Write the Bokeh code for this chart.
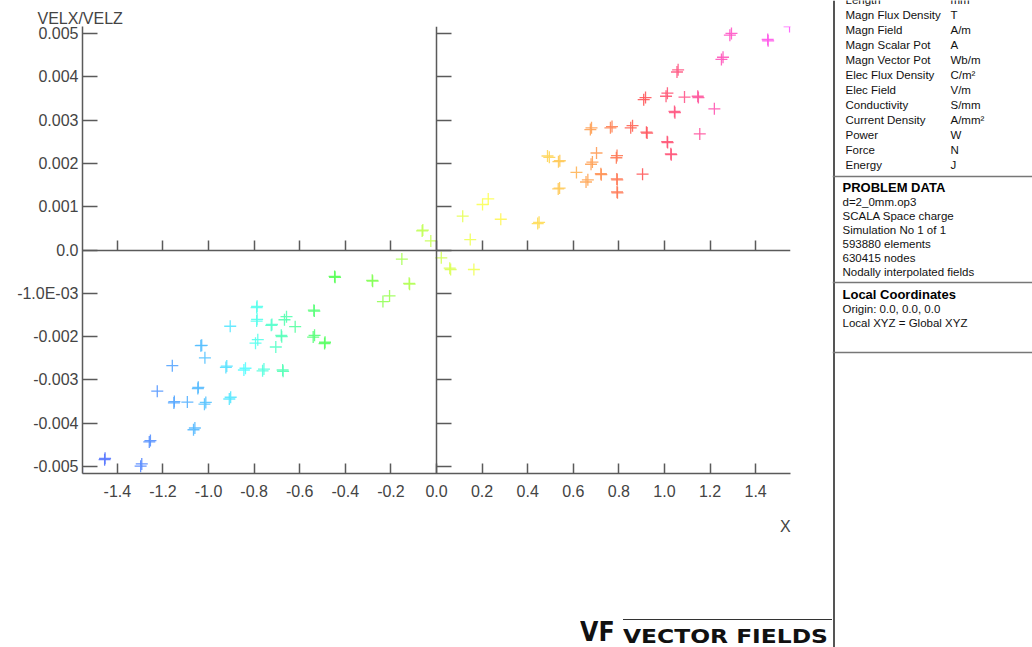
import colorsys
import numpy as np
from bokeh.plotting import figure
from bokeh.models import (Range1d, LinearAxis, FixedTicker, CustomJSTickFormatter,
                          ColumnDataSource, LinearColorMapper, Div)
from bokeh.layouts import row, column
from bokeh.embed import file_html
from bokeh.resources import INLINE
from bokeh.core.properties import value

# ---------------- data ----------------
x_vals = [1.549, 1.294, 1.287, 1.453, 1.455, 1.257, 1.250, 1.060, 1.055, 1.013, 1.007,
          0.909, 0.917, 1.088, 1.146, 1.149, 1.044, 1.046, 1.219, 1.155, 1.012, 1.014,
          1.028, 1.030, 0.921, 0.924, 0.852, 0.860, 0.763, 0.770, 0.675, 0.680, 0.702,
          0.789, 0.792, 0.678, 0.684, 0.614, 0.721, 0.723, 0.904, 0.791, 0.793, 0.656,
          0.664, 0.792, 0.794, 0.487, 0.495, 0.535, 0.541, 0.534, 0.540, 0.444, 0.450,
          0.282, 0.227, 0.202, 0.115, 0.148, 0.164, 0.058, 0.062, 0.021, -0.025, -0.063,
          -0.060,
          -0.152, -0.120, -0.118, -0.206, -0.235, -0.282, -0.280, -0.447, -0.445, -0.538,
          -0.536, -0.541, -0.535, -0.491, -0.489, -0.620, -0.658, -0.667, -0.681, -0.679,
          -0.705, -0.725, -0.722, -0.675, -0.673, -0.789, -0.787, -0.789, -0.787, -0.784,
          -0.794, -0.763, -0.757, -0.845, -0.838, -0.905, -0.924, -0.920, -0.909, -0.903,
          -1.016, -1.034, -1.030, -1.047, -1.045, -1.018, -1.012, -1.066, -1.060, -1.093,
          -1.152, -1.150, -1.159, -1.225, -1.260, -1.255, -1.298, -1.293, -1.456, -1.454,
          -1.553]
y_vals = [0.00516, 0.00500, 0.00496, 0.00486, 0.00483, 0.00445, 0.00440, 0.00416, 0.00411,
          0.00362, 0.00355, 0.00347, 0.00352, 0.00353, 0.00355, 0.00352, 0.00320, 0.00317,
          0.00326, 0.00268, 0.00250, 0.00248, 0.00222, 0.00220, 0.00272, 0.00270, 0.00282,
          0.00287, 0.00282, 0.00285, 0.00278, 0.00282, 0.00224, 0.00213, 0.00218, 0.00198,
          0.00203, 0.00179, 0.00176, 0.00174, 0.00175, 0.00164, 0.00162, 0.00157, 0.00162,
          0.00134, 0.00132, 0.00217, 0.00214, 0.00204, 0.00206, 0.00141, 0.00143, 0.00061,
          0.00064, 0.00071, 0.00118, 0.00105, 0.00078, 0.00024, -0.00045, -0.00042,
          -0.00045, -0.00018, 0.00021, 0.00044, 0.00046,
          -0.00021, -0.00077, -0.00079, -0.00106, -0.00119, -0.00070, -0.00072, -0.00061,
          -0.00063, -0.00139, -0.00141, -0.00201, -0.00197, -0.00216, -0.00213, -0.00177,
          -0.00154, -0.00161, -0.00197, -0.00200, -0.00224, -0.00174, -0.00172, -0.00277,
          -0.00280, -0.00164, -0.00160, -0.00133, -0.00130, -0.00207, -0.00215, -0.00279,
          -0.00275, -0.00277, -0.00273, -0.00176, -0.00271, -0.00268, -0.00344, -0.00340,
          -0.00249, -0.00221, -0.00220, -0.00320, -0.00317, -0.00356, -0.00352, -0.00415,
          -0.00411, -0.00351, -0.00353, -0.00350, -0.00267, -0.00326, -0.00443, -0.00440,
          -0.00499, -0.00494, -0.00484, -0.00481, -0.00517]

x_ticks = [-1.4, -1.2, -1.0, -0.8, -0.6, -0.4, -0.2, 0.0, 0.2, 0.4, 0.6, 0.8, 1.0, 1.2, 1.4]
x_tick_labels = ["-1.4", "-1.2", "-1.0", "-0.8", "-0.6", "-0.4", "-0.2", "0.0",
                 "0.2", "0.4", "0.6", "0.8", "1.0", "1.2", "1.4"]
y_ticks = [-0.005, -0.004, -0.003, -0.002, -0.001, 0.0, 0.001, 0.002, 0.003, 0.004, 0.005]
y_tick_labels = ["-0.005", "-0.004", "-0.003", "-0.002", "-1.0E-03", "0.0",
                 "0.001", "0.002", "0.003", "0.004", "0.005"]
x_title = "X"
y_title = "VELX/VELZ"

unit_names = ["Length", "Magn Flux Density", "Magn Field", "Magn Scalar Pot", "Magn Vector Pot",
              "Elec Flux Density", "Elec Field", "Conductivity", "Current Density",
              "Power", "Force", "Energy"]
unit_values = ["mm", "T", "A/m", "A", "Wb/m", "C/m²", "V/m", "S/mm", "A/mm²", "W", "N", "J"]
problem_title = "PROBLEM DATA"
problem_lines = ["d=2_0mm.op3", "SCALA Space charge", "Simulation No 1 of 1",
                 "593880 elements", "630415 nodes", "Nodally interpolated fields"]
coord_title = "Local Coordinates"
coord_lines = ["Origin: 0.0, 0.0, 0.0", "Local XYZ = Global XYZ"]
logo_mark = "VF"
logo_text = "VECTOR FIELDS"

# ---------------- styling / geometry (page pixels) ----------------
XL, XR = -1.553, 1.553
YB, YT = -0.00516, 0.00516
FRAME_L, FRAME_R, FRAME_T, FRAME_B = 82, 790, 26, 473
PAGE_W, PAGE_H = 1032, 647
SPLIT_X = 832          # left edge of the info panel
MAIN_H = 510           # height of the plot figure; a strip below holds "X" and the logo
AX_COL = "#5a5a5a"
TXT_COL = "#444444"
FONT = "Liberation Sans"

# palette: hue varies along x (blue -> cyan -> green -> yellow -> red -> magenta)
anchor_x = [-1.553, -1.3, -1.0, -0.8, -0.5, -0.1, 0.2, 0.5, 0.7, 0.9, 1.1, 1.3, 1.553]
anchor_h = [232, 222, 200, 175, 125, 85, 62, 45, 25, 0, -20, -40, -60]
palette = []
for xv in np.linspace(XL, XR, 256):
    h = (np.interp(xv, anchor_x, anchor_h) % 360) / 360.0
    r, g, b = colorsys.hsv_to_rgb(h, 0.66, 1.0)
    palette.append("#%02x%02x%02x" % (int(r * 255), int(g * 255), int(b * 255)))
mapper = LinearColorMapper(palette=palette, low=XL, high=XR)

FMT_CODE = """
for (let i = 0; i < t.length; i++) { if (Math.abs(t[i] - tick) < 1e-9) return l[i]; }
return '';
"""

p = figure(width=SPLIT_X, height=MAIN_H, x_range=Range1d(XL, XR), y_range=Range1d(YB, YT),
           x_axis_type=None, y_axis_type=None, output_backend="svg", toolbar_location=None,
           min_border_left=FRAME_L, min_border_right=SPLIT_X - FRAME_R,
           min_border_top=FRAME_T, min_border_bottom=MAIN_H - FRAME_B)
p.outline_line_color = None
p.title.text = y_title
p.title.align = "left"
p.title.offset = 37 - FRAME_L
p.title.standoff = 0
p.title.text_font = FONT
p.title.text_font_size = "16px"
p.title.text_font_style = "normal"
p.title.text_color = TXT_COL


def make_axis(ticks, labels, tick_in, standoff, show_labels=True, fixed=None):
    ax = LinearAxis(ticker=FixedTicker(ticks=ticks, minor_ticks=[]),
                    formatter=CustomJSTickFormatter(args=dict(t=ticks, l=labels), code=FMT_CODE)
                    if show_labels else CustomJSTickFormatter(code="return '';"),
                    major_tick_in=tick_in, major_tick_out=0,
                    minor_tick_line_color=None,
                    axis_line_color=AX_COL, axis_line_width=1.5,
                    major_tick_line_color=AX_COL, major_tick_line_width=1.5,
                    major_label_standoff=standoff,
                    major_label_text_font=FONT,
                    major_label_text_font_size="16px" if show_labels else "0px",
                    major_label_text_color=TXT_COL)
    if fixed is not None:
        ax.fixed_location = fixed
    return ax


p.add_layout(make_axis(y_ticks, y_tick_labels, 15, 4), "left")
p.add_layout(make_axis(x_ticks, x_tick_labels, 10, 11), "below")
p.add_layout(make_axis(y_ticks, y_tick_labels, 15, 0, show_labels=False, fixed=0), "left")
p.add_layout(make_axis(x_ticks, x_tick_labels, 10, 0, show_labels=False, fixed=0), "below")

src = ColumnDataSource(dict(x=x_vals, y=y_vals))
p.scatter("x", "y", source=src, marker="cross", size=12,
          line_color={"field": "x", "transform": mapper}, line_width=1.3, line_alpha=0.9)

# ---------------- strip below the plot: axis name "X" and logo (HTML) ----------------
SH = PAGE_H - MAIN_H
strip_html = f"""
<div style="position:relative;width:{SPLIT_X}px;height:{SH}px;overflow:hidden;margin:0;padding:0;">
  <span style="position:absolute;left:780px;top:{527 - MAIN_H - 9}px;font:16px '{FONT}';line-height:18px;color:{TXT_COL};">{x_title}</span>
  <div style="position:absolute;left:623px;top:{620 - MAIN_H - 1}px;width:{SPLIT_X - 623}px;height:0;border-top:1.5px solid #333;"></div>
  <span style="position:absolute;left:580px;top:{641 - MAIN_H - 20}px;font:bold 27px 'DejaVu Sans';line-height:22px;color:#111;white-space:nowrap;transform:scaleX(0.88);transform-origin:0 0;">{logo_mark}</span>
  <span style="position:absolute;left:623px;top:{643 - MAIN_H - 15}px;font:bold 19px 'DejaVu Sans';line-height:16px;color:#111;white-space:nowrap;transform:scaleX(1.23);transform-origin:0 0;">{logo_text}</span>
</div>
"""
strip = Div(text=strip_html, width=SPLIT_X, height=SH, margin=0)

# ---------------- right info panel ----------------
PW = PAGE_W - SPLIT_X
panel = figure(width=PW, height=PAGE_H, x_range=Range1d(SPLIT_X, PAGE_W),
               y_range=Range1d(PAGE_H, 0), x_axis_type=None, y_axis_type=None,
               output_backend="svg", toolbar_location=None, min_border=0)
panel.outline_line_color = None
panel.segment(x0=[SPLIT_X + 1.5], y0=[0], x1=[SPLIT_X + 1.5], y1=[PAGE_H],
              line_color="#555555", line_width=2)
sep_y = [176, 282, 352]
panel.segment(x0=[SPLIT_X] * 3, y0=sep_y, x1=[PAGE_W] * 3, y1=sep_y, line_color="#777777",
              line_width=1.3)

row_y = [-1 + 15 * i for i in range(len(unit_names))]
panel.text(x=[845] * len(unit_names), y=row_y, text=unit_names, text_font=value(FONT),
           text_font_size="11.5px", text_color="#111111", text_baseline="middle")
panel.text(x=[950] * len(unit_values), y=row_y, text=unit_values, text_font=value(FONT),
           text_font_size="11.5px", text_color="#111111", text_baseline="middle")

panel.text(x=[842], y=[187], text=[problem_title], text_font=value(FONT),
           text_font_style="bold", text_font_size="13px", text_color="#000000",
           text_baseline="middle")
pd_y = [201 + 14 * i for i in range(len(problem_lines))]
panel.text(x=[842] * len(problem_lines), y=pd_y, text=problem_lines, text_font=value(FONT),
           text_font_size="11.5px", text_color="#111111", text_baseline="middle")
panel.text(x=[842], y=[294], text=[coord_title], text_font=value(FONT),
           text_font_style="bold", text_font_size="13px", text_color="#000000",
           text_baseline="middle")
lc_y = [308 + 14 * i for i in range(len(coord_lines))]
panel.text(x=[842] * len(coord_lines), y=lc_y, text=coord_lines, text_font=value(FONT),
           text_font_size="11.5px", text_color="#111111", text_baseline="middle")

layout = row(column(p, strip), panel)
open("out.html", "w").write(file_html(layout, INLINE))
